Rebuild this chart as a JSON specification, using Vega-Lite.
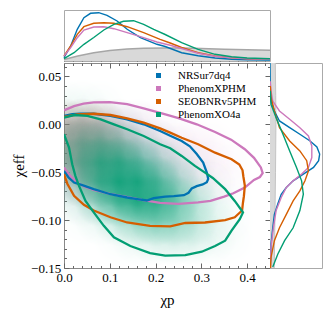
{
"$schema":"https://vega.github.io/schema/vega-lite/v6.json",
"padding":{"left":11,"top":9,"right":0,"bottom":0},
"config":{"font":"'Liberation Serif', 'Times New Roman', serif","view":{"stroke":"#888"},
"axis":{"labelFont":"'Liberation Serif', 'Times New Roman', serif","titleFont":"'Liberation Serif', 'Times New Roman', serif","labelColor":"#000","titleColor":"#000","tickColor":"#666","domain":false,"grid":false,"labelFontSize":13,"titleFontSize":15,"titleFontWeight":"normal","labelOverlap":false,"labelFlush":false},
"legend":{"labelFont":"'Liberation Serif', 'Times New Roman', serif","labelFontSize":11,"labelColor":"#000"}},
"datasets":{
"contours":[
{"m":"PhenomXPHM","i":0,"X":0,"Y":0.0146},{"m":"PhenomXPHM","i":1,"X":0.022,"Y":0.019},{"m":"PhenomXPHM","i":2,"X":0.043,"Y":0.0215},{"m":"PhenomXPHM","i":3,"X":0.065,"Y":0.0228},{"m":"PhenomXPHM","i":4,"X":0.1,"Y":0.0232},{"m":"PhenomXPHM","i":5,"X":0.138,"Y":0.021},{"m":"PhenomXPHM","i":6,"X":0.174,"Y":0.0167},{"m":"PhenomXPHM","i":7,"X":0.21,"Y":0.012},{"m":"PhenomXPHM","i":8,"X":0.25,"Y":0.0065},{"m":"PhenomXPHM","i":9,"X":0.29,"Y":0.0},{"m":"PhenomXPHM","i":10,"X":0.33,"Y":-0.008},{"m":"PhenomXPHM","i":11,"X":0.365,"Y":-0.016},{"m":"PhenomXPHM","i":12,"X":0.395,"Y":-0.026},{"m":"PhenomXPHM","i":13,"X":0.415,"Y":-0.035},{"m":"PhenomXPHM","i":14,"X":0.43,"Y":-0.045},{"m":"PhenomXPHM","i":15,"X":0.434,"Y":-0.051},{"m":"PhenomXPHM","i":16,"X":0.428,"Y":-0.055},{"m":"PhenomXPHM","i":17,"X":0.415,"Y":-0.058},{"m":"PhenomXPHM","i":18,"X":0.395,"Y":-0.066},{"m":"PhenomXPHM","i":19,"X":0.37,"Y":-0.072},{"m":"PhenomXPHM","i":20,"X":0.35,"Y":-0.0755},{"m":"PhenomXPHM","i":21,"X":0.32,"Y":-0.08},{"m":"PhenomXPHM","i":22,"X":0.293,"Y":-0.0816},{"m":"PhenomXPHM","i":23,"X":0.25,"Y":-0.083},{"m":"PhenomXPHM","i":24,"X":0.21,"Y":-0.082},{"m":"PhenomXPHM","i":25,"X":0.17,"Y":-0.079},{"m":"PhenomXPHM","i":26,"X":0.138,"Y":-0.076},{"m":"PhenomXPHM","i":27,"X":0.1,"Y":-0.0725},{"m":"PhenomXPHM","i":28,"X":0.065,"Y":-0.0685},{"m":"PhenomXPHM","i":29,"X":0.045,"Y":-0.065},{"m":"PhenomXPHM","i":30,"X":0.029,"Y":-0.061},{"m":"PhenomXPHM","i":31,"X":0.012,"Y":-0.053},{"m":"PhenomXPHM","i":32,"X":0,"Y":-0.045},
{"m":"NRSur7dq4","i":0,"X":0,"Y":0.0087},{"m":"NRSur7dq4","i":1,"X":0.018,"Y":0.0105},{"m":"NRSur7dq4","i":2,"X":0.036,"Y":0.011},{"m":"NRSur7dq4","i":3,"X":0.065,"Y":0.011},{"m":"NRSur7dq4","i":4,"X":0.1015,"Y":0.0087},{"m":"NRSur7dq4","i":5,"X":0.138,"Y":0.0052},{"m":"NRSur7dq4","i":6,"X":0.174,"Y":0.0},{"m":"NRSur7dq4","i":7,"X":0.21,"Y":-0.007},{"m":"NRSur7dq4","i":8,"X":0.232,"Y":-0.012},{"m":"NRSur7dq4","i":9,"X":0.257,"Y":-0.0174},{"m":"NRSur7dq4","i":10,"X":0.275,"Y":-0.023},{"m":"NRSur7dq4","i":11,"X":0.29,"Y":-0.031},{"m":"NRSur7dq4","i":12,"X":0.304,"Y":-0.04},{"m":"NRSur7dq4","i":13,"X":0.312,"Y":-0.0504},{"m":"NRSur7dq4","i":14,"X":0.315,"Y":-0.057},{"m":"NRSur7dq4","i":15,"X":0.312,"Y":-0.0605},{"m":"NRSur7dq4","i":16,"X":0.303,"Y":-0.0628},{"m":"NRSur7dq4","i":17,"X":0.29,"Y":-0.0645},{"m":"NRSur7dq4","i":18,"X":0.279,"Y":-0.067},{"m":"NRSur7dq4","i":19,"X":0.272,"Y":-0.0715},{"m":"NRSur7dq4","i":20,"X":0.262,"Y":-0.074},{"m":"NRSur7dq4","i":21,"X":0.24,"Y":-0.075},{"m":"NRSur7dq4","i":22,"X":0.221,"Y":-0.0755},{"m":"NRSur7dq4","i":23,"X":0.196,"Y":-0.077},{"m":"NRSur7dq4","i":24,"X":0.181,"Y":-0.0795},{"m":"NRSur7dq4","i":25,"X":0.16,"Y":-0.078},{"m":"NRSur7dq4","i":26,"X":0.138,"Y":-0.0764},{"m":"NRSur7dq4","i":27,"X":0.1015,"Y":-0.073},{"m":"NRSur7dq4","i":28,"X":0.065,"Y":-0.0677},{"m":"NRSur7dq4","i":29,"X":0.04,"Y":-0.0635},{"m":"NRSur7dq4","i":30,"X":0.022,"Y":-0.0608},{"m":"NRSur7dq4","i":31,"X":0.01,"Y":-0.0555},{"m":"NRSur7dq4","i":32,"X":0,"Y":-0.049},
{"m":"SEOBNRv5PHM","i":0,"X":0,"Y":0.0076},{"m":"SEOBNRv5PHM","i":1,"X":0.029,"Y":0.0104},{"m":"SEOBNRv5PHM","i":2,"X":0.065,"Y":0.011},{"m":"SEOBNRv5PHM","i":3,"X":0.1015,"Y":0.0097},{"m":"SEOBNRv5PHM","i":4,"X":0.138,"Y":0.0063},{"m":"SEOBNRv5PHM","i":5,"X":0.174,"Y":0.0017},{"m":"SEOBNRv5PHM","i":6,"X":0.21,"Y":-0.0042},{"m":"SEOBNRv5PHM","i":7,"X":0.232,"Y":-0.0087},{"m":"SEOBNRv5PHM","i":8,"X":0.257,"Y":-0.014},{"m":"SEOBNRv5PHM","i":9,"X":0.293,"Y":-0.0208},{"m":"SEOBNRv5PHM","i":10,"X":0.33,"Y":-0.0296},{"m":"SEOBNRv5PHM","i":11,"X":0.366,"Y":-0.0365},{"m":"SEOBNRv5PHM","i":12,"X":0.383,"Y":-0.042},{"m":"SEOBNRv5PHM","i":13,"X":0.39,"Y":-0.048},{"m":"SEOBNRv5PHM","i":14,"X":0.392,"Y":-0.055},{"m":"SEOBNRv5PHM","i":15,"X":0.395,"Y":-0.064},{"m":"SEOBNRv5PHM","i":16,"X":0.393,"Y":-0.075},{"m":"SEOBNRv5PHM","i":17,"X":0.391,"Y":-0.0816},{"m":"SEOBNRv5PHM","i":18,"X":0.389,"Y":-0.09},{"m":"SEOBNRv5PHM","i":19,"X":0.373,"Y":-0.097},{"m":"SEOBNRv5PHM","i":20,"X":0.352,"Y":-0.1},{"m":"SEOBNRv5PHM","i":21,"X":0.308,"Y":-0.1025},{"m":"SEOBNRv5PHM","i":22,"X":0.265,"Y":-0.103},{"m":"SEOBNRv5PHM","i":23,"X":0.232,"Y":-0.1066},{"m":"SEOBNRv5PHM","i":24,"X":0.188,"Y":-0.106},{"m":"SEOBNRv5PHM","i":25,"X":0.138,"Y":-0.1025},{"m":"SEOBNRv5PHM","i":26,"X":0.1015,"Y":-0.097},{"m":"SEOBNRv5PHM","i":27,"X":0.065,"Y":-0.09},{"m":"SEOBNRv5PHM","i":28,"X":0.0435,"Y":-0.084},{"m":"SEOBNRv5PHM","i":29,"X":0.022,"Y":-0.0747},{"m":"SEOBNRv5PHM","i":30,"X":0.0073,"Y":-0.062},{"m":"SEOBNRv5PHM","i":31,"X":0,"Y":-0.052},
{"m":"PhenomXO4a","i":0,"X":0,"Y":0.0069},{"m":"PhenomXO4a","i":1,"X":0.022,"Y":0.0097},{"m":"PhenomXO4a","i":2,"X":0.051,"Y":0.0087},{"m":"PhenomXO4a","i":3,"X":0.08,"Y":0.0052},{"m":"PhenomXO4a","i":4,"X":0.109,"Y":0.0},{"m":"PhenomXO4a","i":5,"X":0.138,"Y":-0.0052},{"m":"PhenomXO4a","i":6,"X":0.174,"Y":-0.0122},{"m":"PhenomXO4a","i":7,"X":0.21,"Y":-0.0208},{"m":"PhenomXO4a","i":8,"X":0.232,"Y":-0.025},{"m":"PhenomXO4a","i":9,"X":0.257,"Y":-0.033},{"m":"PhenomXO4a","i":10,"X":0.286,"Y":-0.0434},{"m":"PhenomXO4a","i":11,"X":0.308,"Y":-0.0504},{"m":"PhenomXO4a","i":12,"X":0.325,"Y":-0.056},{"m":"PhenomXO4a","i":13,"X":0.352,"Y":-0.0677},{"m":"PhenomXO4a","i":14,"X":0.373,"Y":-0.08},{"m":"PhenomXO4a","i":15,"X":0.391,"Y":-0.092},{"m":"PhenomXO4a","i":16,"X":0.384,"Y":-0.099},{"m":"PhenomXO4a","i":17,"X":0.366,"Y":-0.111},{"m":"PhenomXO4a","i":18,"X":0.352,"Y":-0.1215},{"m":"PhenomXO4a","i":19,"X":0.33,"Y":-0.127},{"m":"PhenomXO4a","i":20,"X":0.301,"Y":-0.133},{"m":"PhenomXO4a","i":21,"X":0.265,"Y":-0.1365},{"m":"PhenomXO4a","i":22,"X":0.221,"Y":-0.137},{"m":"PhenomXO4a","i":23,"X":0.188,"Y":-0.1344},{"m":"PhenomXO4a","i":24,"X":0.145,"Y":-0.127},{"m":"PhenomXO4a","i":25,"X":0.109,"Y":-0.118},{"m":"PhenomXO4a","i":26,"X":0.087,"Y":-0.106},{"m":"PhenomXO4a","i":27,"X":0.065,"Y":-0.092},{"m":"PhenomXO4a","i":28,"X":0.047,"Y":-0.08},{"m":"PhenomXO4a","i":29,"X":0.0326,"Y":-0.064},{"m":"PhenomXO4a","i":30,"X":0.025,"Y":-0.054},{"m":"PhenomXO4a","i":31,"X":0.018,"Y":-0.0417},{"m":"PhenomXO4a","i":32,"X":0.011,"Y":-0.0243},{"m":"PhenomXO4a","i":33,"X":0,"Y":-0.0104}
],
"dens":[
{"c":"SEOBNRv5PHM","X":0,"Y":0,"d":0.18},{"c":"SEOBNRv5PHM","X":0.04,"Y":0,"d":0.22},{"c":"SEOBNRv5PHM","X":0.08,"Y":0,"d":0.16},
{"c":"SEOBNRv5PHM","X":0,"Y":-0.02,"d":0.24},{"c":"SEOBNRv5PHM","X":0.04,"Y":-0.02,"d":0.29},{"c":"SEOBNRv5PHM","X":0.08,"Y":-0.02,"d":0.24},{"c":"SEOBNRv5PHM","X":0.12,"Y":-0.02,"d":0.13},
{"c":"SEOBNRv5PHM","X":0,"Y":-0.04,"d":0.19},{"c":"SEOBNRv5PHM","X":0.04,"Y":-0.04,"d":0.24},{"c":"SEOBNRv5PHM","X":0.08,"Y":-0.04,"d":0.19},{"c":"SEOBNRv5PHM","X":0.12,"Y":-0.04,"d":0.11},
{"c":"SEOBNRv5PHM","X":0.04,"Y":-0.06,"d":0.09},{"c":"SEOBNRv5PHM","X":0.08,"Y":-0.06,"d":0.08},
{"c":"PhenomXPHM","X":0,"Y":0,"d":0.25},{"c":"PhenomXPHM","X":0.04,"Y":0,"d":0.3},{"c":"PhenomXPHM","X":0.08,"Y":0,"d":0.28},{"c":"PhenomXPHM","X":0.12,"Y":0,"d":0.2},{"c":"PhenomXPHM","X":0.16,"Y":0,"d":0.12},{"c":"PhenomXPHM","X":0.2,"Y":0,"d":0.06},
{"c":"PhenomXPHM","X":0,"Y":-0.02,"d":0.3},{"c":"PhenomXPHM","X":0.04,"Y":-0.02,"d":0.35},{"c":"PhenomXPHM","X":0.08,"Y":-0.02,"d":0.32},{"c":"PhenomXPHM","X":0.12,"Y":-0.02,"d":0.26},{"c":"PhenomXPHM","X":0.16,"Y":-0.02,"d":0.2},{"c":"PhenomXPHM","X":0.2,"Y":-0.02,"d":0.15},{"c":"PhenomXPHM","X":0.24,"Y":-0.02,"d":0.11},{"c":"PhenomXPHM","X":0.28,"Y":-0.02,"d":0.08},{"c":"PhenomXPHM","X":0.32,"Y":-0.02,"d":0.05},
{"c":"PhenomXPHM","X":0,"Y":-0.04,"d":0.28},{"c":"PhenomXPHM","X":0.04,"Y":-0.04,"d":0.32},{"c":"PhenomXPHM","X":0.08,"Y":-0.04,"d":0.3},{"c":"PhenomXPHM","X":0.12,"Y":-0.04,"d":0.24},{"c":"PhenomXPHM","X":0.16,"Y":-0.04,"d":0.2},{"c":"PhenomXPHM","X":0.2,"Y":-0.04,"d":0.16},{"c":"PhenomXPHM","X":0.24,"Y":-0.04,"d":0.13},{"c":"PhenomXPHM","X":0.28,"Y":-0.04,"d":0.1},{"c":"PhenomXPHM","X":0.32,"Y":-0.04,"d":0.07},{"c":"PhenomXPHM","X":0.36,"Y":-0.04,"d":0.04},
{"c":"PhenomXPHM","X":0,"Y":-0.06,"d":0.18},{"c":"PhenomXPHM","X":0.04,"Y":-0.06,"d":0.22},{"c":"PhenomXPHM","X":0.08,"Y":-0.06,"d":0.2},{"c":"PhenomXPHM","X":0.12,"Y":-0.06,"d":0.16},{"c":"PhenomXPHM","X":0.16,"Y":-0.06,"d":0.14},{"c":"PhenomXPHM","X":0.2,"Y":-0.06,"d":0.12},{"c":"PhenomXPHM","X":0.24,"Y":-0.06,"d":0.1},{"c":"PhenomXPHM","X":0.28,"Y":-0.06,"d":0.08},{"c":"PhenomXPHM","X":0.32,"Y":-0.06,"d":0.06},{"c":"PhenomXPHM","X":0.36,"Y":-0.06,"d":0.03},
{"c":"PhenomXPHM","X":0.04,"Y":-0.08,"d":0.05},{"c":"PhenomXPHM","X":0.08,"Y":-0.08,"d":0.06},{"c":"PhenomXPHM","X":0.12,"Y":-0.08,"d":0.05},{"c":"PhenomXPHM","X":0.16,"Y":-0.08,"d":0.04},{"c":"PhenomXPHM","X":0.2,"Y":-0.08,"d":0.04},
{"c":"PhenomXO4a","X":0,"Y":0.02,"d":0.05},{"c":"PhenomXO4a","X":0.04,"Y":0.02,"d":0.05},{"c":"PhenomXO4a","X":0.08,"Y":0.02,"d":0.03},
{"c":"PhenomXO4a","X":0,"Y":0,"d":0.15},{"c":"PhenomXO4a","X":0.04,"Y":0,"d":0.18},{"c":"PhenomXO4a","X":0.08,"Y":0,"d":0.15},{"c":"PhenomXO4a","X":0.12,"Y":0,"d":0.09},{"c":"PhenomXO4a","X":0.16,"Y":0,"d":0.04},
{"c":"PhenomXO4a","X":0,"Y":-0.02,"d":0.25},{"c":"PhenomXO4a","X":0.04,"Y":-0.02,"d":0.39},{"c":"PhenomXO4a","X":0.08,"Y":-0.02,"d":0.44},{"c":"PhenomXO4a","X":0.12,"Y":-0.02,"d":0.35},{"c":"PhenomXO4a","X":0.16,"Y":-0.02,"d":0.19},{"c":"PhenomXO4a","X":0.2,"Y":-0.02,"d":0.08},{"c":"PhenomXO4a","X":0.24,"Y":-0.02,"d":0.02},
{"c":"PhenomXO4a","X":0,"Y":-0.04,"d":0.23},{"c":"PhenomXO4a","X":0.04,"Y":-0.04,"d":0.49},{"c":"PhenomXO4a","X":0.08,"Y":-0.04,"d":0.73},{"c":"PhenomXO4a","X":0.12,"Y":-0.04,"d":0.76},{"c":"PhenomXO4a","X":0.16,"Y":-0.04,"d":0.56},{"c":"PhenomXO4a","X":0.2,"Y":-0.04,"d":0.29},{"c":"PhenomXO4a","X":0.24,"Y":-0.04,"d":0.11},{"c":"PhenomXO4a","X":0.28,"Y":-0.04,"d":0.03},
{"c":"PhenomXO4a","X":0,"Y":-0.06,"d":0.13},{"c":"PhenomXO4a","X":0.04,"Y":-0.06,"d":0.36},{"c":"PhenomXO4a","X":0.08,"Y":-0.06,"d":0.7},{"c":"PhenomXO4a","X":0.12,"Y":-0.06,"d":0.96},{"c":"PhenomXO4a","X":0.16,"Y":-0.06,"d":0.94},{"c":"PhenomXO4a","X":0.2,"Y":-0.06,"d":0.65},{"c":"PhenomXO4a","X":0.24,"Y":-0.06,"d":0.32},{"c":"PhenomXO4a","X":0.28,"Y":-0.06,"d":0.11},{"c":"PhenomXO4a","X":0.32,"Y":-0.06,"d":0.03},
{"c":"PhenomXO4a","X":0,"Y":-0.08,"d":0.04},{"c":"PhenomXO4a","X":0.04,"Y":-0.08,"d":0.15},{"c":"PhenomXO4a","X":0.08,"Y":-0.08,"d":0.39},{"c":"PhenomXO4a","X":0.12,"Y":-0.08,"d":0.7},{"c":"PhenomXO4a","X":0.16,"Y":-0.08,"d":0.9},{"c":"PhenomXO4a","X":0.2,"Y":-0.08,"d":0.82},{"c":"PhenomXO4a","X":0.24,"Y":-0.08,"d":0.53},{"c":"PhenomXO4a","X":0.28,"Y":-0.08,"d":0.24},{"c":"PhenomXO4a","X":0.32,"Y":-0.08,"d":0.08},{"c":"PhenomXO4a","X":0.36,"Y":-0.08,"d":0.02},
{"c":"PhenomXO4a","X":0.04,"Y":-0.1,"d":0.03},{"c":"PhenomXO4a","X":0.08,"Y":-0.1,"d":0.09},{"c":"PhenomXO4a","X":0.12,"Y":-0.1,"d":0.21},{"c":"PhenomXO4a","X":0.16,"Y":-0.1,"d":0.36},{"c":"PhenomXO4a","X":0.2,"Y":-0.1,"d":0.43},{"c":"PhenomXO4a","X":0.24,"Y":-0.1,"d":0.36},{"c":"PhenomXO4a","X":0.28,"Y":-0.1,"d":0.22},{"c":"PhenomXO4a","X":0.32,"Y":-0.1,"d":0.09},{"c":"PhenomXO4a","X":0.36,"Y":-0.1,"d":0.03},
{"c":"PhenomXO4a","X":0.12,"Y":-0.12,"d":0.035},{"c":"PhenomXO4a","X":0.16,"Y":-0.12,"d":0.08},{"c":"PhenomXO4a","X":0.2,"Y":-0.12,"d":0.13},{"c":"PhenomXO4a","X":0.24,"Y":-0.12,"d":0.15},{"c":"PhenomXO4a","X":0.28,"Y":-0.12,"d":0.12},{"c":"PhenomXO4a","X":0.32,"Y":-0.12,"d":0.07},{"c":"PhenomXO4a","X":0.36,"Y":-0.12,"d":0.03}
],
"topm":[
{"m":"prior","X":0,"h":1.5},{"m":"prior","X":0.03,"h":5},{"m":"prior","X":0.065,"h":8.3},{"m":"prior","X":0.1,"h":10.5},{"m":"prior","X":0.138,"h":12},{"m":"prior","X":0.174,"h":12.8},{"m":"prior","X":0.22,"h":12.9},{"m":"prior","X":0.26,"h":12.9},{"m":"prior","X":0.3,"h":12.5},{"m":"prior","X":0.35,"h":11.8},{"m":"prior","X":0.4,"h":11.2},{"m":"prior","X":0.45,"h":10.7},
{"m":"NRSur7dq4","X":0,"h":3.3},{"m":"NRSur7dq4","X":0.0146,"h":15},{"m":"NRSur7dq4","X":0.029,"h":31.7},{"m":"NRSur7dq4","X":0.0435,"h":43.3},{"m":"NRSur7dq4","X":0.058,"h":47.7},{"m":"NRSur7dq4","X":0.076,"h":48.3},{"m":"NRSur7dq4","X":0.094,"h":45.7},{"m":"NRSur7dq4","X":0.116,"h":40},{"m":"NRSur7dq4","X":0.138,"h":31.7},{"m":"NRSur7dq4","X":0.167,"h":23.3},{"m":"NRSur7dq4","X":0.203,"h":16.7},{"m":"NRSur7dq4","X":0.221,"h":14.5},{"m":"NRSur7dq4","X":0.257,"h":8.3},{"m":"NRSur7dq4","X":0.293,"h":5.2},{"m":"NRSur7dq4","X":0.33,"h":3},{"m":"NRSur7dq4","X":0.366,"h":1.8},{"m":"NRSur7dq4","X":0.4,"h":1.3},{"m":"NRSur7dq4","X":0.45,"h":1},
{"m":"SEOBNRv5PHM","X":0,"h":5},{"m":"SEOBNRv5PHM","X":0.0146,"h":15},{"m":"SEOBNRv5PHM","X":0.029,"h":26.7},{"m":"SEOBNRv5PHM","X":0.0435,"h":34.3},{"m":"SEOBNRv5PHM","X":0.065,"h":37.7},{"m":"SEOBNRv5PHM","X":0.087,"h":38.3},{"m":"SEOBNRv5PHM","X":0.109,"h":37.7},{"m":"SEOBNRv5PHM","X":0.138,"h":34.3},{"m":"SEOBNRv5PHM","X":0.174,"h":28.3},{"m":"SEOBNRv5PHM","X":0.21,"h":21.7},{"m":"SEOBNRv5PHM","X":0.232,"h":18},{"m":"SEOBNRv5PHM","X":0.257,"h":13.5},{"m":"SEOBNRv5PHM","X":0.293,"h":8.3},{"m":"SEOBNRv5PHM","X":0.33,"h":5},{"m":"SEOBNRv5PHM","X":0.366,"h":3.3},{"m":"SEOBNRv5PHM","X":0.4,"h":2.3},{"m":"SEOBNRv5PHM","X":0.45,"h":1.7},
{"m":"PhenomXPHM","X":0,"h":5},{"m":"PhenomXPHM","X":0.0146,"h":13.3},{"m":"PhenomXPHM","X":0.029,"h":23.3},{"m":"PhenomXPHM","X":0.0435,"h":31},{"m":"PhenomXPHM","X":0.065,"h":34},{"m":"PhenomXPHM","X":0.087,"h":34.3},{"m":"PhenomXPHM","X":0.109,"h":32.3},{"m":"PhenomXPHM","X":0.138,"h":28.3},{"m":"PhenomXPHM","X":0.167,"h":24.3},{"m":"PhenomXPHM","X":0.203,"h":19},{"m":"PhenomXPHM","X":0.232,"h":15.7},{"m":"PhenomXPHM","X":0.257,"h":12.5},{"m":"PhenomXPHM","X":0.293,"h":7.8},{"m":"PhenomXPHM","X":0.33,"h":4.8},{"m":"PhenomXPHM","X":0.366,"h":3.2},{"m":"PhenomXPHM","X":0.4,"h":2.3},{"m":"PhenomXPHM","X":0.45,"h":1.7},
{"m":"PhenomXO4a","X":0,"h":2.3},{"m":"PhenomXO4a","X":0.022,"h":8.3},{"m":"PhenomXO4a","X":0.0435,"h":16.7},{"m":"PhenomXO4a","X":0.065,"h":23.5},{"m":"PhenomXO4a","X":0.087,"h":31},{"m":"PhenomXO4a","X":0.109,"h":36.7},{"m":"PhenomXO4a","X":0.13,"h":39.7},{"m":"PhenomXO4a","X":0.152,"h":40.3},{"m":"PhenomXO4a","X":0.174,"h":36.7},{"m":"PhenomXO4a","X":0.196,"h":31.7},{"m":"PhenomXO4a","X":0.221,"h":26.5},{"m":"PhenomXO4a","X":0.257,"h":18.3},{"m":"PhenomXO4a","X":0.293,"h":11.7},{"m":"PhenomXO4a","X":0.33,"h":6.7},{"m":"PhenomXO4a","X":0.366,"h":4.3},{"m":"PhenomXO4a","X":0.4,"h":3},{"m":"PhenomXO4a","X":0.45,"h":2.3}
],
"rightm":[
{"m":"prior","Y":0.064,"w":5.2},{"m":"prior","Y":0.03,"w":5.6},{"m":"prior","Y":0,"w":5.8},{"m":"prior","Y":-0.05,"w":5.4},{"m":"prior","Y":-0.1,"w":4.8},{"m":"prior","Y":-0.15,"w":4.2},
{"m":"NRSur7dq4","Y":0.064,"w":0},{"m":"NRSur7dq4","Y":0.035,"w":0.3},{"m":"NRSur7dq4","Y":0.0243,"w":1},{"m":"NRSur7dq4","Y":0.0139,"w":4.3},{"m":"NRSur7dq4","Y":0.0035,"w":9.3},{"m":"NRSur7dq4","Y":-0.0035,"w":19.3},{"m":"NRSur7dq4","Y":-0.0104,"w":29.3},{"m":"NRSur7dq4","Y":-0.0174,"w":39.3},{"m":"NRSur7dq4","Y":-0.0236,"w":46},{"m":"NRSur7dq4","Y":-0.031,"w":48.7},{"m":"NRSur7dq4","Y":-0.038,"w":47.7},{"m":"NRSur7dq4","Y":-0.045,"w":42.7},{"m":"NRSur7dq4","Y":-0.052,"w":32.7},{"m":"NRSur7dq4","Y":-0.059,"w":22.7},{"m":"NRSur7dq4","Y":-0.066,"w":16},{"m":"NRSur7dq4","Y":-0.073,"w":11},{"m":"NRSur7dq4","Y":-0.083,"w":7.7},{"m":"NRSur7dq4","Y":-0.094,"w":4.3},{"m":"NRSur7dq4","Y":-0.108,"w":2.7},{"m":"NRSur7dq4","Y":-0.125,"w":1},{"m":"NRSur7dq4","Y":-0.15,"w":0.3},
{"m":"PhenomXPHM","Y":0.045,"w":0.3},{"m":"PhenomXPHM","Y":0.0347,"w":1},{"m":"PhenomXPHM","Y":0.0243,"w":2.7},{"m":"PhenomXPHM","Y":0.0139,"w":9.3},{"m":"PhenomXPHM","Y":0.0052,"w":19.3},{"m":"PhenomXPHM","Y":-0.0035,"w":29.3},{"m":"PhenomXPHM","Y":-0.0122,"w":37.7},{"m":"PhenomXPHM","Y":-0.0226,"w":41},{"m":"PhenomXPHM","Y":-0.0347,"w":41},{"m":"PhenomXPHM","Y":-0.045,"w":37.7},{"m":"PhenomXPHM","Y":-0.052,"w":31},{"m":"PhenomXPHM","Y":-0.059,"w":22.7},{"m":"PhenomXPHM","Y":-0.066,"w":16},{"m":"PhenomXPHM","Y":-0.0764,"w":11},{"m":"PhenomXPHM","Y":-0.09,"w":6},{"m":"PhenomXPHM","Y":-0.108,"w":3.3},{"m":"PhenomXPHM","Y":-0.128,"w":1},{"m":"PhenomXPHM","Y":-0.15,"w":0.3},
{"m":"SEOBNRv5PHM","Y":0.04,"w":0.3},{"m":"SEOBNRv5PHM","Y":0.0278,"w":1},{"m":"SEOBNRv5PHM","Y":0.0139,"w":4.3},{"m":"SEOBNRv5PHM","Y":-0.0035,"w":9.3},{"m":"SEOBNRv5PHM","Y":-0.0174,"w":19.3},{"m":"SEOBNRv5PHM","Y":-0.0278,"w":29.3},{"m":"SEOBNRv5PHM","Y":-0.038,"w":36},{"m":"SEOBNRv5PHM","Y":-0.0486,"w":37.7},{"m":"SEOBNRv5PHM","Y":-0.059,"w":34.3},{"m":"SEOBNRv5PHM","Y":-0.0695,"w":29.3},{"m":"SEOBNRv5PHM","Y":-0.08,"w":22.7},{"m":"SEOBNRv5PHM","Y":-0.094,"w":16},{"m":"SEOBNRv5PHM","Y":-0.108,"w":9.3},{"m":"SEOBNRv5PHM","Y":-0.1215,"w":4.3},{"m":"SEOBNRv5PHM","Y":-0.139,"w":1},{"m":"SEOBNRv5PHM","Y":-0.15,"w":0.5},
{"m":"PhenomXO4a","Y":0.035,"w":0.3},{"m":"PhenomXO4a","Y":0.0208,"w":1},{"m":"PhenomXO4a","Y":0.0069,"w":6},{"m":"PhenomXO4a","Y":-0.0104,"w":12.7},{"m":"PhenomXO4a","Y":-0.0278,"w":19.3},{"m":"PhenomXO4a","Y":-0.045,"w":26},{"m":"PhenomXO4a","Y":-0.059,"w":31},{"m":"PhenomXO4a","Y":-0.073,"w":32.7},{"m":"PhenomXO4a","Y":-0.09,"w":29.3},{"m":"PhenomXO4a","Y":-0.108,"w":22.7},{"m":"PhenomXO4a","Y":-0.1215,"w":14.3},{"m":"PhenomXO4a","Y":-0.1354,"w":7.7},{"m":"PhenomXO4a","Y":-0.149,"w":2.7}
]
},
"spacing":2,
"bounds":"flush",
"resolve":{"scale":{"color":"independent"}},
"vconcat":[
{"width":206,"height":51,"view":{"stroke":"#aaa"},
"data":{"name":"topm"},
"encoding":{
"x":{"field":"X","type":"quantitative","scale":{"domain":[0,0.45],"nice":false},"axis":{"orient":"bottom","values":[0,0.02,0.04,0.06,0.08,0.1,0.12,0.14,0.16,0.18,0.2,0.22,0.24,0.26,0.28,0.3,0.32,0.34,0.36,0.38,0.4,0.42,0.44],"labels":false,"title":null,"tickSize":{"condition":{"test":"abs(datum.value*10-round(datum.value*10))<0.001","value":-5},"value":-2.5}}},
"y":{"field":"h","type":"quantitative","scale":{"domain":[0,51],"nice":false},"axis":null}},
"layer":[
{"transform":[{"filter":"datum.m==='prior'"}],"mark":{"type":"area","color":"#d9d9d9","opacity":1}},
{"transform":[{"filter":"datum.m==='prior'"}],"mark":{"type":"line","color":"#a6a6a6","strokeWidth":1.5}},
{"transform":[{"filter":"datum.m!=='prior'"}],"mark":{"type":"line","strokeWidth":1.4},
"encoding":{"color":{"field":"m","type":"nominal","scale":{"domain":["NRSur7dq4","PhenomXPHM","SEOBNRv5PHM","PhenomXO4a"],"range":["#0173b2","#cc78bc","#d55e00","#029e73"]},"legend":null}}}
]},
{"hconcat":[
{"width":206,"height":205,"view":{"stroke":"#888"},
"encoding":{
"x":{"field":"X","type":"quantitative","scale":{"domain":[0,0.45],"nice":false},"axis":null},
"y":{"field":"Y","type":"quantitative","scale":{"domain":[-0.15,0.064],"nice":false,"zero":false},"axis":null}},
"layer":[
{"data":{"name":"dens"},"transform":[{"filter":"datum.c==='SEOBNRv5PHM'"}],
"mark":{"type":"circle","size":2800,"clip":true,"fill":{"gradient":"radial","stops":[{"offset":0,"color":"rgba(213,94,0,1)"},{"offset":1,"color":"rgba(213,94,0,0)"}]}},
"encoding":{
"x":{"field":"X","type":"quantitative","axis":{"orient":"bottom","values":[0,0.02,0.04,0.06,0.08,0.1,0.12,0.14,0.16,0.18,0.2,0.22,0.24,0.26,0.28,0.3,0.32,0.34,0.36,0.38,0.4,0.42,0.44],"labelExpr":"abs(datum.value*10-round(datum.value*10))<0.001 ? format(datum.value,'.1f') : ''","tickSize":{"condition":{"test":"abs(datum.value*10-round(datum.value*10))<0.001","value":-5},"value":-2.5},"labelPadding":8.5,"title":"χp","titlePadding":5}},
"y":{"field":"Y","type":"quantitative","axis":{"orient":"left","values":[-0.15,-0.14,-0.13,-0.12,-0.11,-0.1,-0.09,-0.08,-0.07,-0.06,-0.05,-0.04,-0.03,-0.02,-0.01,0,0.01,0.02,0.03,0.04,0.05,0.06],"labelExpr":"abs(datum.value*20-round(datum.value*20))<0.001 ? format(datum.value,'.2f') : ''","tickSize":{"condition":{"test":"abs(datum.value*20-round(datum.value*20))<0.001","value":-5},"value":-2.5},"labelPadding":8.3,"title":"χeff","titlePadding":4}},
"opacity":{"field":"d","type":"quantitative","scale":{"domain":[0,1],"range":[0,0.85]},"legend":null}}},
{"data":{"name":"dens"},"transform":[{"filter":"datum.c==='PhenomXPHM'"}],
"mark":{"type":"circle","size":2800,"clip":true,"fill":{"gradient":"radial","stops":[{"offset":0,"color":"rgba(204,120,188,1)"},{"offset":1,"color":"rgba(204,120,188,0)"}]}},
"encoding":{"opacity":{"field":"d","type":"quantitative","legend":null}}},
{"data":{"name":"dens"},"transform":[{"filter":"datum.c==='PhenomXO4a'"}],
"mark":{"type":"circle","size":2800,"clip":true,"fill":{"gradient":"radial","stops":[{"offset":0,"color":"rgba(2,158,115,1)"},{"offset":1,"color":"rgba(2,158,115,0)"}]}},
"encoding":{"opacity":{"field":"d","type":"quantitative","legend":null}}},
{"data":{"name":"contours"},"mark":{"type":"square","filled":true,"opacity":0},
"encoding":{
"x":{"field":"X","type":"quantitative","axis":{"orient":"top","values":[0,0.02,0.04,0.06,0.08,0.1,0.12,0.14,0.16,0.18,0.2,0.22,0.24,0.26,0.28,0.3,0.32,0.34,0.36,0.38,0.4,0.42,0.44],"labels":false,"title":null,"tickSize":{"condition":{"test":"abs(datum.value*10-round(datum.value*10))<0.001","value":-5},"value":-2.5}}},
"y":{"field":"Y","type":"quantitative","axis":{"orient":"right","values":[-0.15,-0.14,-0.13,-0.12,-0.11,-0.1,-0.09,-0.08,-0.07,-0.06,-0.05,-0.04,-0.03,-0.02,-0.01,0,0.01,0.02,0.03,0.04,0.05,0.06],"labels":false,"title":null,"tickSize":{"condition":{"test":"abs(datum.value*20-round(datum.value*20))<0.001","value":-5},"value":-2.5}}},
"color":{"field":"m","type":"nominal","scale":{"domain":["NRSur7dq4","PhenomXPHM","SEOBNRv5PHM","PhenomXO4a"],"range":["#0173b2","#cc78bc","#d55e00","#029e73"]},"legend":{"title":null,"orient":"none","legendX":89,"legendY":7,"symbolType":"square","symbolSize":25,"symbolOpacity":1,"symbolStrokeWidth":0,"labelOffset":14,"rowPadding":1,"padding":0,"labelFontSize":11}}}},
{"data":{"name":"contours"},"mark":{"type":"line","strokeWidth":2.3,"clip":true},
"encoding":{
"color":{"field":"m","type":"nominal"},
"order":{"field":"i","type":"quantitative"}}}
],
"resolve":{"axis":{"x":"independent","y":"independent"}}},
{"width":52,"height":205,"view":{"stroke":"#aaa"},
"data":{"name":"rightm"},
"encoding":{
"x":{"field":"w","type":"quantitative","scale":{"domain":[0,51],"nice":false},"axis":null},
"y":{"field":"Y","type":"quantitative","scale":{"domain":[-0.15,0.064],"nice":false,"zero":false},"axis":null}},
"layer":[
{"transform":[{"filter":"datum.m==='prior'"}],"mark":{"type":"area","orient":"horizontal","color":"#d9d9d9","opacity":1}},
{"transform":[{"filter":"datum.m==='prior'"}],"mark":{"type":"line","color":"#c4c4c4","strokeWidth":1},"encoding":{"order":{"field":"Y","type":"quantitative"}}},
{"transform":[{"filter":"datum.m!=='prior'"}],"mark":{"type":"line","strokeWidth":1.4,"clip":true},
"encoding":{"order":{"field":"Y","type":"quantitative"},"color":{"field":"m","type":"nominal","scale":{"domain":["NRSur7dq4","PhenomXPHM","SEOBNRv5PHM","PhenomXO4a"],"range":["#0173b2","#cc78bc","#d55e00","#029e73"]},"legend":null}}}
]}
],"spacing":0,"bounds":"flush","resolve":{"scale":{"color":"independent"}}}
]
}
